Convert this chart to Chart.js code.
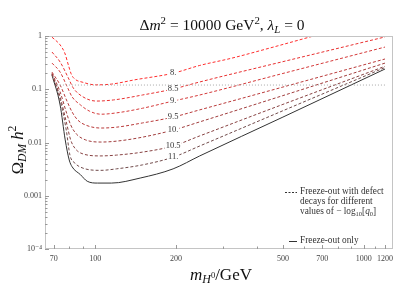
<!DOCTYPE html>
<html><head><meta charset="utf-8">
<script src="https://cdn.jsdelivr.net/npm/chart.js@4"></script>
<style>html,body{margin:0;padding:0;background:#fff;}#wrap{width:405px;height:304px;}</style>
</head><body><div id="wrap"><canvas id="c" width="405" height="304"></canvas></div>
<script>
// ---- data (m_H0 in GeV, Omega h^2) ----
const curveLabels = ['8.', '8.5', '9.', '9.5', '10.', '10.5', '11.'];
const mass8 = [69, 74, 77, 79.5, 81.5, 84, 90, 100, 115, 140, 195, 245, 320, 450, 650];
const omega8 = [0.95, 0.68, 0.48, 0.28, 0.19, 0.155, 0.135, 0.121, 0.125, 0.15, 0.20, 0.28, 0.38, 0.6, 1.0];
const mass85 = [69, 74, 79.4, 82.8, 90, 101, 117, 150, 195, 245, 500, 1200];
const omega85 = [0.50, 0.325, 0.163, 0.106, 0.072, 0.060, 0.063, 0.078, 0.101, 0.137, 0.33, 0.96];
const mass9 = [69, 74, 78.7, 82, 88, 95, 105, 120, 150, 195, 245, 500, 1200];
const omega9 = [0.31, 0.21, 0.11, 0.072, 0.051, 0.039, 0.034, 0.036, 0.044, 0.060, 0.078, 0.198, 0.62];
const mass95 = [69, 74, 78.7, 82, 86, 92, 105, 120, 150, 195, 245, 500, 1200];
const omega95 = [0.21, 0.12, 0.058, 0.0374, 0.0265, 0.0213, 0.0187, 0.0194, 0.0233, 0.030, 0.041, 0.110, 0.37];
const mass10 = [69, 74, 78, 81, 85, 92, 105, 120, 150, 195, 245, 500, 1200];
const omega10 = [0.20, 0.089, 0.0374, 0.0214, 0.0145, 0.0112, 0.0102, 0.0106, 0.0126, 0.0171, 0.0244, 0.076, 0.31];
const mass105 = [69, 74, 78, 81, 84, 90, 105, 120, 150, 195, 245, 500, 1200];
const omega105 = [0.193, 0.072, 0.0244, 0.0112, 0.0078, 0.0061, 0.0056, 0.0058, 0.0066, 0.0086, 0.0133, 0.052, 0.27];
const mass11 = [69, 74, 78, 80.5, 84, 90, 105, 120, 150, 195, 245, 500, 1200];
const omega11 = [0.19, 0.063, 0.0171, 0.0058, 0.0041, 0.0033, 0.0030, 0.0032, 0.0038, 0.0053, 0.0086, 0.0395, 0.256];
const massFO = [69, 74, 77.3, 80, 82, 88, 93.4, 102, 115, 147, 195, 245, 500, 1200];
const omegaFO = [0.185, 0.0506, 0.0112, 0.0047, 0.0035, 0.0025, 0.00187, 0.00173, 0.00173, 0.00215, 0.0032, 0.0056, 0.030, 0.24];
const refMass = [72, 1200];
const refOmega = [0.12, 0.12];
const labelMass = 195;
const xTicks = [70, 100, 200, 500, 700, 1000, 1200];
const xMinorTicks = [80, 90, 300, 400, 600, 800, 900, 1100];
const yTicks = [1e-4, 1e-3, 1e-2, 0.1, 1];
const yTickLabels = ['10\u207B\u2074', '0.001', '0.01', '0.1', '1'];

const curveMasses = [mass8, mass85, mass9, mass95, mass10, mass105, mass11];
const curveOmegas = [omega8, omega85, omega9, omega95, omega10, omega105, omega11];
const curveColors = ['rgb(255,45,45)', 'rgb(232,48,48)', 'rgb(212,56,56)', 'rgb(185,58,58)', 'rgb(160,60,60)', 'rgb(135,66,66)', 'rgb(112,74,74)'];

const SERIF = '"Liberation Serif", "DejaVu Serif", serif';
const pts = (ms, os) => ms.map((m, i) => ({x: m, y: os[i]}));

const datasets = [];
datasets.push({data: pts(refMass, refOmega), borderColor: '#a8a8a8', borderWidth: 1, borderDash: [1, 2], pointRadius: 0, tension: 0});
curveMasses.forEach((ms, k) => {
  datasets.push({data: pts(ms, curveOmegas[k]), borderColor: curveColors[k], borderWidth: 1, borderDash: [3, 2], pointRadius: 0, cubicInterpolationMode: 'monotone'});
});
datasets.push({data: pts(massFO, omegaFO), borderColor: '#333', borderWidth: 1, pointRadius: 0, cubicInterpolationMode: 'monotone'});

function fontOf(r, base) { return (r.i ? 'italic ' : '') + ((r.s || 1) * base).toFixed(2) + 'px ' + SERIF; }
function rich(ctx, runs, x, y, base, align) {
  let w = 0;
  runs.forEach(r => { ctx.font = fontOf(r, base); r.w = ctx.measureText(r.t).width; w += r.w; });
  let cx = align === 'center' ? x - w / 2 : x;
  ctx.textAlign = 'left';
  runs.forEach(r => { ctx.font = fontOf(r, base); ctx.fillText(r.t, cx, y + (r.dy || 0)); cx += r.w; });
}

const decor = {
  id: 'decor',
  afterDatasetsDraw(chart) {
    const ctx = chart.ctx, a = chart.chartArea, xs = chart.scales.x, ys = chart.scales.y;
    ctx.save();
    // inline curve labels
    ctx.font = '8.5px ' + SERIF;
    ctx.textBaseline = 'middle';
    curveMasses.forEach((ms, k) => {
      const idx = ms.indexOf(labelMass);
      const px = xs.getPixelForValue(labelMass), py = ys.getPixelForValue(curveOmegas[k][idx]);
      const w = ctx.measureText(curveLabels[k]).width;
      ctx.fillStyle = '#fff';
      ctx.fillRect(px - w / 2 - 1, py - 4, w + 2, 8);
      ctx.fillStyle = '#333';
      ctx.textAlign = 'center';
      ctx.fillText(curveLabels[k], px, py);
    });
    // frame
    ctx.strokeStyle = '#c4c4c4';
    ctx.lineWidth = 1;
    ctx.strokeRect(Math.round(a.left) + 0.5, Math.round(a.top) + 0.5, Math.round(a.right - a.left) - 1, Math.round(a.bottom - a.top) - 1);
    // inside ticks
    ctx.strokeStyle = '#999';
    ctx.beginPath();
    const tx = (v, len) => { const p = Math.round(xs.getPixelForValue(v)) + 0.5; ctx.moveTo(p, a.bottom); ctx.lineTo(p, a.bottom - len); };
    xTicks.forEach(v => tx(v, 4));
    xMinorTicks.forEach(v => tx(v, 2.5));
    const ty = (v, len) => { const p = Math.round(ys.getPixelForValue(v)) + 0.5; ctx.moveTo(a.left, p); ctx.lineTo(a.left + len, p); };
    yTicks.forEach(v => ty(v, 4));
    yTicks.slice(0, -1).forEach(d => { for (let j = 2; j <= 9; j++) ty(d * j, 2.5); });
    ctx.stroke();
    // title
    ctx.fillStyle = '#111';
    ctx.textBaseline = 'alphabetic';
    rich(ctx, [{t: '\u0394'}, {t: 'm', i: 1}, {t: '2', s: 0.7, dy: -6}, {t: ' = 10000 GeV'}, {t: '2', s: 0.7, dy: -6}, {t: ', '}, {t: '\u03BB', i: 1}, {t: 'L', i: 1, s: 0.7, dy: 3}, {t: ' = 0'}], 222, 30, 15.5, 'center');
    // x title
    rich(ctx, [{t: 'm', i: 1}, {t: 'H', i: 1, s: 0.7, dy: 3}, {t: '0', s: 0.5, dy: -2}, {t: '/GeV'}], 221, 280, 17, 'center');
    // y title
    ctx.save();
    ctx.translate(23, 150);
    ctx.rotate(-Math.PI / 2);
    rich(ctx, [{t: '\u03A9'}, {t: 'DM', i: 1, s: 0.7, dy: 3}, {t: ' '}, {t: 'h', i: 1}, {t: '2', s: 0.7, dy: -7}], 0, 0, 16.5, 'center');
    ctx.restore();
    // legend
    ctx.fillStyle = '#333';
    ctx.textBaseline = 'middle';
    ctx.strokeStyle = '#333';
    ctx.setLineDash([2, 1.5]);
    ctx.beginPath(); ctx.moveTo(285, 192.5); ctx.lineTo(297, 192.5); ctx.stroke();
    ctx.setLineDash([]);
    ctx.beginPath(); ctx.moveTo(289, 241.5); ctx.lineTo(297, 241.5); ctx.stroke();
    ctx.font = '9.3px ' + SERIF;
    ctx.textAlign = 'left';
    ctx.fillText('Freeze-out with defect', 300, 192);
    ctx.fillText('decays for different', 300, 202);
    rich(ctx, [{t: 'values of \u2212 log'}, {t: '10', s: 0.7, dy: 2}, {t: '['}, {t: 'q', i: 1}, {t: '0', s: 0.7, dy: 2}, {t: ']'}], 300, 212, 9.3, 'left');
    ctx.textAlign = 'left';
    ctx.font = '9.3px ' + SERIF;
    ctx.fillText('Freeze-out only', 300, 241);
    ctx.restore();
  }
};

new Chart(document.getElementById('c'), {
  type: 'line',
  data: {datasets},
  options: {
    responsive: false, animation: false, devicePixelRatio: 1,
    layout: {padding: {top: 36, right: 12, left: 0, bottom: 0}},
    plugins: {legend: {display: false}, tooltip: {enabled: false}, title: {display: false}},
    scales: {
      x: {
        type: 'logarithmic', min: 65, max: 1285,
        grid: {display: false, drawTicks: false}, border: {display: false},
        afterBuildTicks: s => { s.ticks = xTicks.map(v => ({value: v})); },
        afterFit: s => { s.height = 55; },
        ticks: {autoSkip: false, maxRotation: 0, padding: 5, color: '#444', font: {family: SERIF, size: 8}, callback: v => String(v)}
      },
      y: {
        type: 'logarithmic', min: 1e-4, max: 1,
        grid: {display: false, drawTicks: false}, border: {display: false},
        afterBuildTicks: s => { s.ticks = yTicks.map(v => ({value: v})); },
        afterFit: s => { s.width = 45; },
        ticks: {autoSkip: false, padding: 3, color: '#444', font: {family: SERIF, size: 8}, callback: v => yTickLabels[yTicks.indexOf(v)] || ''}
      }
    }
  },
  plugins: [decor]
});
</script></body></html>
